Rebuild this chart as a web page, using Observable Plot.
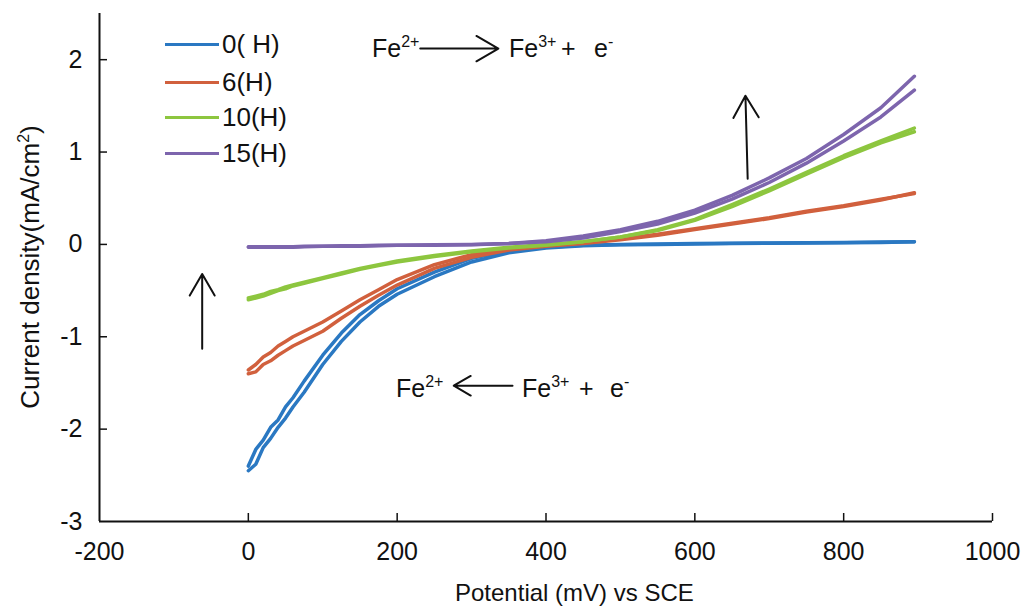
<!DOCTYPE html>
<html>
<head>
<meta charset="utf-8">
<script src="https://cdn.jsdelivr.net/npm/d3@7"></script>
<script src="https://cdn.jsdelivr.net/npm/@observablehq/plot@0.6"></script>
<style>
  html, body { margin: 0; padding: 0; background: #fff; }
  #wrap { position: relative; width: 1026px; height: 608px; font-family: "Liberation Sans", Arial, sans-serif; color: #111; }
  .t { position: absolute; font-size: 25px; line-height: 24px; white-space: nowrap; }
  .t sup { font-size: 16px; vertical-align: 0; position: relative; top: -10px; line-height: 0; }
  .lg { position: absolute; height: 3px; width: 54px; }
</style>
</head>
<body>
<div id="wrap"></div>
<script>
// ---- data ----
const seriesNames = ["0( H)", "6(H)", "10(H)", "15(H)"];
const seriesColors = ["#2a78c2", "#d1603d", "#8dc63f", "#7d65ad"];
const potential = [0, 10, 20, 30, 40, 50, 60, 75, 100, 125, 150, 175, 200, 250, 300, 350, 400, 450, 500, 550, 600, 650, 700, 750, 800, 850, 895];

const h0_sweepA = [-2.45, -2.38, -2.2, -2.1, -1.98, -1.88, -1.76, -1.6, -1.3, -1.05, -0.84, -0.67, -0.54, -0.35, -0.19, -0.09, -0.04, -0.015, -0.005, 0.0, 0.005, 0.01, 0.012, 0.015, 0.018, 0.022, 0.03];
const h0_sweepB = [-2.4, -2.22, -2.12, -1.98, -1.9, -1.76, -1.66, -1.48, -1.2, -0.96, -0.76, -0.61, -0.48, -0.3, -0.15, -0.07, -0.03, -0.01, 0.0, 0.005, 0.01, 0.012, 0.015, 0.018, 0.02, 0.025, 0.03];
const h6_sweepA = [-1.4, -1.38, -1.3, -1.26, -1.2, -1.15, -1.1, -1.04, -0.94, -0.8, -0.67, -0.55, -0.44, -0.26, -0.14, -0.06, -0.02, 0.01, 0.05, 0.1, 0.16, 0.22, 0.28, 0.35, 0.41, 0.48, 0.56];
const h6_sweepB = [-1.36, -1.3, -1.22, -1.17, -1.1, -1.05, -1.0, -0.94, -0.84, -0.72, -0.6, -0.49, -0.38, -0.22, -0.11, -0.05, -0.01, 0.02, 0.06, 0.11, 0.17, 0.23, 0.29, 0.36, 0.42, 0.49, 0.55];
const h10_sweepA = [-0.6, -0.58, -0.56, -0.53, -0.5, -0.48, -0.45, -0.42, -0.37, -0.32, -0.27, -0.23, -0.19, -0.13, -0.08, -0.04, -0.01, 0.03, 0.08, 0.16, 0.27, 0.43, 0.6, 0.78, 0.96, 1.12, 1.26];
const h10_sweepB = [-0.58, -0.56, -0.54, -0.51, -0.49, -0.46, -0.44, -0.41, -0.36, -0.31, -0.26, -0.22, -0.18, -0.12, -0.07, -0.03, 0.0, 0.03, 0.08, 0.15, 0.26, 0.41, 0.58, 0.76, 0.94, 1.1, 1.22];
const h15_sweepA = [-0.03, -0.03, -0.03, -0.03, -0.03, -0.03, -0.03, -0.025, -0.02, -0.02, -0.02, -0.015, -0.01, -0.01, -0.005, 0.01, 0.04, 0.09, 0.16, 0.25, 0.37, 0.53, 0.72, 0.93, 1.19, 1.48, 1.82];
const h15_sweepB = [-0.025, -0.025, -0.025, -0.025, -0.025, -0.025, -0.025, -0.02, -0.02, -0.015, -0.015, -0.01, -0.01, -0.005, 0.0, 0.01, 0.03, 0.07, 0.14, 0.22, 0.34, 0.49, 0.67, 0.88, 1.12, 1.38, 1.67];

const xTicks = [-200, 0, 200, 400, 600, 800, 1000];
const yTicks = [-3, -2, -1, 0, 1, 2];

// annotation arrows in data units
const annotationArrows = [
  {x1: -62, y1: -1.13, x2: -62, y2: -0.32},
  {x1: 671, y1: 0.71, x2: 668, y2: 1.61},
  {x1: 231, y1: 2.12, x2: 336, y2: 2.12},
  {x1: 355, y1: -1.53, x2: 276, y2: -1.53}
];

// ---- build table ----
const sweeps = [
  [seriesNames[0], h0_sweepA, h0_sweepB],
  [seriesNames[1], h6_sweepA, h6_sweepB],
  [seriesNames[2], h10_sweepA, h10_sweepB],
  [seriesNames[3], h15_sweepA, h15_sweepB]
];
const rows = [];
for (const [name, a, b] of sweeps) {
  potential.forEach((p, i) => rows.push({series: name, sweep: "A", potential: p, current: a[i]}));
  potential.forEach((p, i) => rows.push({series: name, sweep: "B", potential: p, current: b[i]}));
}

const chart = Plot.plot({
  width: 1026,
  height: 608,
  marginLeft: 99,
  marginRight: 34,
  marginTop: 13,
  marginBottom: 87,
  style: {fontFamily: "'Liberation Sans', Arial, sans-serif", fontSize: "25px", color: "#111", background: "#fff"},
  x: {domain: [-200, 1000]},
  y: {domain: [-3, 2.5]},
  color: {domain: seriesNames, range: seriesColors},
  marks: [
    Plot.axisX({ticks: xTicks, tickSize: 0, tickPadding: 21, label: null, fontSize: 25, tickFormat: d => String(d)}),
    Plot.axisY({ticks: yTicks, tickSize: 0, tickPadding: 17, label: null, fontSize: 25, tickFormat: d => String(d)}),
    Plot.ruleX(xTicks.slice(1), {x: d => d, y1: -3, y2: -3, insetBottom: 8, stroke: "#111", strokeWidth: 1.5}),
    Plot.ruleY(yTicks.slice(1), {y: d => d, x1: -200, x2: -200, insetRight: -8, stroke: "#111", strokeWidth: 1.5}),
    Plot.line(rows, {x: "potential", y: "current", z: d => d.series + d.sweep, stroke: "series", strokeWidth: 3.5, curve: "linear"}),
    Plot.ruleY([-3], {stroke: "#111", strokeWidth: 2}),
    Plot.ruleX([-200], {stroke: "#111", strokeWidth: 2}),
    Plot.arrow(annotationArrows, {x1: "x1", y1: "y1", x2: "x2", y2: "y2", stroke: "#111", strokeWidth: 2, headLength: 19, headAngle: 60})
  ]
});

const wrap = document.getElementById("wrap");
wrap.appendChild(chart);

function addText(html, left, top, extra) {
  const d = document.createElement("div");
  d.className = "t";
  d.innerHTML = html;
  d.style.left = left + "px";
  d.style.top = top + "px";
  if (extra) Object.assign(d.style, extra);
  wrap.appendChild(d);
  return d;
}

// legend
const legendRows = [44, 82, 117, 153];
seriesNames.forEach((name, i) => {
  const l = document.createElement("div");
  l.className = "lg";
  l.style.left = "165px";
  l.style.top = (legendRows[i] - 1.5) + "px";
  l.style.background = seriesColors[i];
  wrap.appendChild(l);
  addText(name, 222, legendRows[i] - 12, {fontSize: "26px"});
});

// reaction annotations
addText("Fe<sup>2+</sup>", 372, 36);
addText("Fe<sup>3+</sup>", 509, 36);
addText("+", 561, 36);
addText("e<sup>-</sup>", 594, 36);
addText("Fe<sup>2+</sup>", 396, 376);
addText("Fe<sup>3+</sup>", 522, 376);
addText("+", 579, 376);
addText("e<sup>-</sup>", 610, 376);

// axis titles
addText("Potential (mV) vs SCE", 455, 581, {fontSize: "24px"});
addText("Current density(mA/cm<sup>2</sup>)", 30, 267, {transform: "translate(-50%, -50%) rotate(-90deg)", fontSize: "26px"});
</script>
</body>
</html>
